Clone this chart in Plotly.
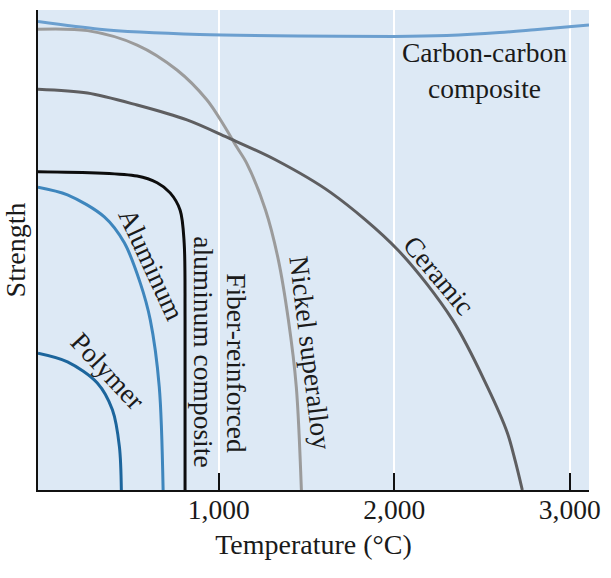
import plotly.graph_objects as go

# Temperature (°C) and relative strength (0-100)
carbon_T = [-30, 320, 550, 890, 1450, 2000, 2300, 2600, 2800, 3110]
carbon_S = [97.6, 96.0, 95.4, 94.9, 94.6, 94.5, 94.7, 95.3, 95.9, 96.9]

nickel_T = [-30, 252, 535, 762, 932, 1029, 1102, 1159, 1267, 1340, 1397, 1442, 1471]
nickel_S = [96.0, 95.7, 92.7, 87.5, 81.3, 76.0, 71.5, 68.1, 58.3, 47.9, 35.4, 21.5, 0]

ceramic_T = [-30, 252, 535, 819, 1046, 1323, 1641, 2021, 2333, 2531, 2645, 2690, 2730]
ceramic_S = [83.5, 82.7, 80.2, 77.1, 73.5, 68.8, 61.9, 50.0, 35.4, 21.5, 11.9, 6.0, 0]

fiber_T = [-30, 535, 649, 723, 780, 803, 808, 808]
fiber_S = [66.3, 65.4, 64.0, 61.9, 58.3, 51.5, 35.4, 0]

aluminum_T = [-30, 138, 348, 462, 553, 610, 661, 683]
aluminum_S = [63.1, 61.5, 56.9, 51.5, 43.1, 35.4, 21.5, 0]

polymer_T = [-30, 138, 308, 394, 434, 445]
polymer_S = [28.5, 26.7, 22.3, 16.7, 9.0, 0]

tick_vals = [1000, 2000, 3000]
tick_text = ["1,000", "2,000", "3,000"]

FONT = "Liberation Serif, Times New Roman, serif"
TXT = "#1a1a1a"

series = [
    (carbon_T, carbon_S, "#6b9fcf", "Carbon-carbon composite"),
    (nickel_T, nickel_S, "#9b9b9b", "Nickel superalloy"),
    (ceramic_T, ceramic_S, "#5e5e60", "Ceramic"),
    (fiber_T, fiber_S, "#0d0d0d", "Fiber-reinforced aluminum composite"),
    (aluminum_T, aluminum_S, "#3e86bd", "Aluminum"),
    (polymer_T, polymer_S, "#1c659c", "Polymer"),
]

fig = go.Figure()
for T, S, color, name in series:
    fig.add_trace(go.Scatter(
        x=T, y=S, mode="lines", name=name,
        line=dict(color=color, width=3, shape="spline", smoothing=0.9),
        hoverinfo="skip",
    ))

labels = [
    ("Carbon-carbon<br>composite", 2515, 87.3, 0),
    ("Aluminum", 618, 47.0, 65),
    ("Polymer", 365, 24.8, 47),
    ("aluminum composite", 915, 28.75, 90),
    ("Fiber-reinforced", 1102, 26.5, 90),
    ("Nickel superalloy", 1525, 28.5, 83),
    ("Ceramic", 2255, 44.6, 50),
]
for text, x, y, ang in labels:
    fig.add_annotation(
        x=x, y=y, xref="x", yref="y", text=text, showarrow=False,
        textangle=ang, align="center",
        font=dict(family=FONT, size=27.5, color=TXT),
    )

fig.update_layout(
    width=611, height=578,
    margin=dict(l=38, r=19, t=10, b=88),
    paper_bgcolor="white",
    plot_bgcolor="#dde9f5",
    showlegend=False,
    font=dict(family=FONT, size=27.5, color=TXT),
    xaxis=dict(
        range=[-30, 3110], tickvals=tick_vals, ticktext=tick_text,
        ticks="inside", ticklen=17, tickwidth=1.5, tickcolor="#111",
        ticklabelstandoff=-6,
        showgrid=True, gridcolor="white", gridwidth=2,
        showline=True, linecolor="#111", linewidth=1.5,
        zeroline=False,
        title=dict(text="Temperature (°C)", standoff=11,
                   font=dict(family=FONT, size=28, color=TXT)),
        tickfont=dict(family=FONT, size=27.5, color=TXT),
    ),
    yaxis=dict(
        range=[0, 100], showticklabels=False, ticks="",
        showgrid=False, zeroline=False,
        showline=True, linecolor="#111", linewidth=1.5,
        title=dict(text="Strength", standoff=4,
                   font=dict(family=FONT, size=28, color=TXT)),
    ),
)

fig.write_html("out.html")
